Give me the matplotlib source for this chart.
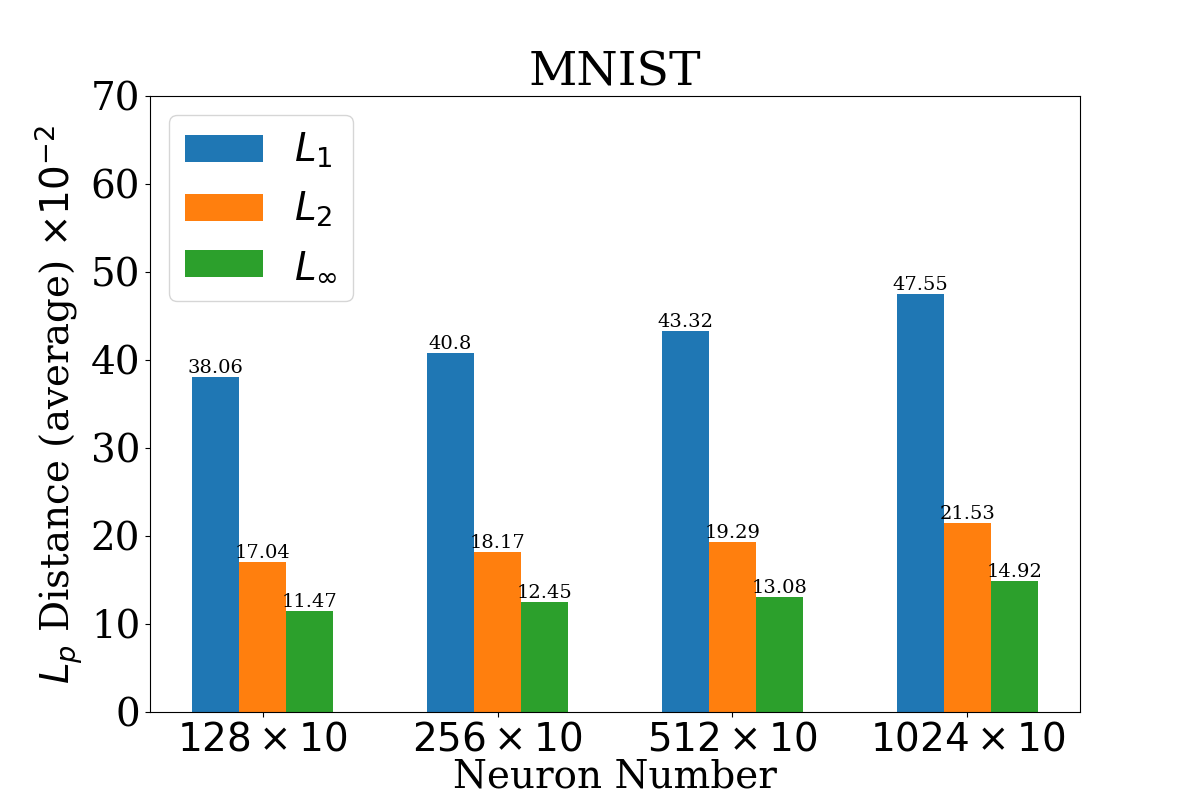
import numpy as np
import matplotlib
matplotlib.use("Agg")
import matplotlib.pyplot as plt

plt.rcParams['font.family'] = 'serif'

# values
groups = [r'$128\times10$', r'$256\times10$', r'$512\times10$', r'$1024\times10$']
l1 = [38.06, 40.8, 43.32, 47.55]
l2 = [17.04, 18.17, 19.29, 21.53]
linf = [11.47, 12.45, 13.08, 14.92]

x = np.arange(len(groups))
width = 0.2

fig, ax = plt.subplots(figsize=(12, 8), dpi=100)

b1 = ax.bar(x - width, l1, width, label=r'$L_1$')
b2 = ax.bar(x, l2, width, label=r'$L_2$')
b3 = ax.bar(x + width, linf, width, label=r'$L_\infty$')

for bars in (b1, b2, b3):
    ax.bar_label(bars, fontsize=14)

ax.set_xticks(x)
ax.set_xticklabels(groups)
ax.tick_params(axis='both', labelsize=28)
ax.set_ylim(0, 70)
ax.set_xlabel("Neuron Number", fontsize=28, labelpad=0)
ax.set_ylabel(r"$L_p$ Distance (average) $\times10^{-2}$", fontsize=28)
ax.set_title("MNIST", fontsize=34)
ax.legend(loc='upper left', fontsize=28)

plt.savefig("out.png")
